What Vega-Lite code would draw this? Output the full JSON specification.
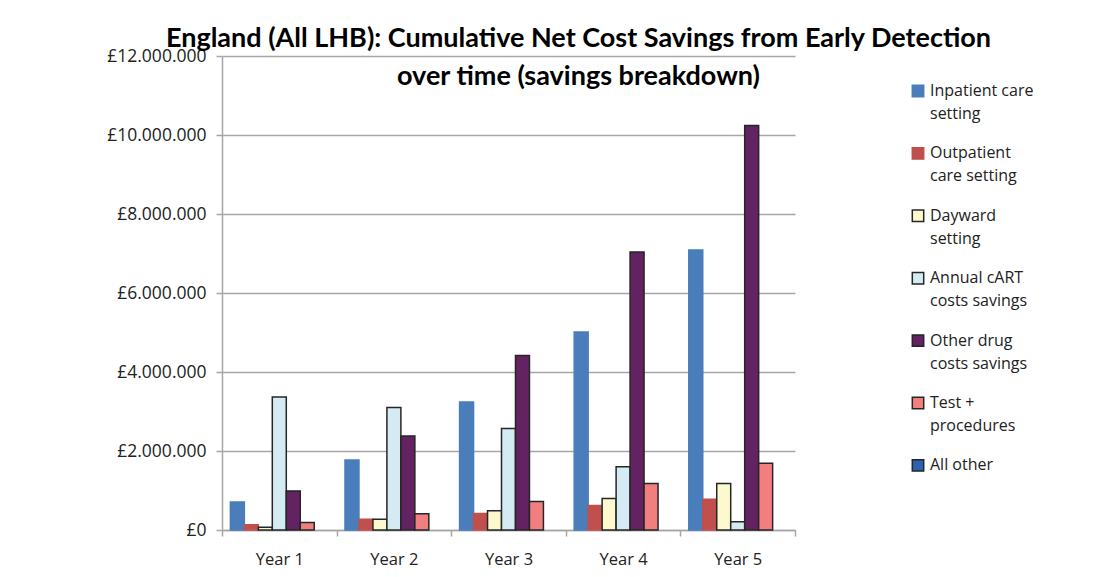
{
  "$schema": "https://vega.github.io/schema/vega-lite/v6.json",
  "width": 573,
  "height": 474,
  "autosize": {"type": "none"},
  "padding": {"left": 222, "top": 56, "right": 311, "bottom": 47},
  "background": "white",
  "title": {
    "text": ["England  (All LHB): Cumulative Net Cost Savings from Early Detection", "over time (savings breakdown)"],
    "font": "Lato", "fontSize": 27, "fontWeight": "bold", "color": "#000000",
    "anchor": "middle", "dx": 70, "offset": -71, "lineHeight": 38, "baseline": "bottom"
  },
  "data": {
    "values": [
      {"year": "Year 1", "series": "Inpatient care setting", "value": 710000},
      {"year": "Year 1", "series": "Outpatient care setting", "value": 130000},
      {"year": "Year 1", "series": "Dayward setting", "value": 70000},
      {"year": "Year 1", "series": "Annual cART costs savings", "value": 3370000},
      {"year": "Year 1", "series": "Other drug costs savings", "value": 990000},
      {"year": "Year 1", "series": "Test + procedures", "value": 190000},
      {"year": "Year 1", "series": "All other", "value": 0},
      {"year": "Year 2", "series": "Inpatient care setting", "value": 1770000},
      {"year": "Year 2", "series": "Outpatient care setting", "value": 270000},
      {"year": "Year 2", "series": "Dayward setting", "value": 270000},
      {"year": "Year 2", "series": "Annual cART costs savings", "value": 3100000},
      {"year": "Year 2", "series": "Other drug costs savings", "value": 2380000},
      {"year": "Year 2", "series": "Test + procedures", "value": 410000},
      {"year": "Year 2", "series": "All other", "value": 0},
      {"year": "Year 3", "series": "Inpatient care setting", "value": 3240000},
      {"year": "Year 3", "series": "Outpatient care setting", "value": 420000},
      {"year": "Year 3", "series": "Dayward setting", "value": 490000},
      {"year": "Year 3", "series": "Annual cART costs savings", "value": 2570000},
      {"year": "Year 3", "series": "Other drug costs savings", "value": 4420000},
      {"year": "Year 3", "series": "Test + procedures", "value": 720000},
      {"year": "Year 3", "series": "All other", "value": 0},
      {"year": "Year 4", "series": "Inpatient care setting", "value": 5010000},
      {"year": "Year 4", "series": "Outpatient care setting", "value": 620000},
      {"year": "Year 4", "series": "Dayward setting", "value": 800000},
      {"year": "Year 4", "series": "Annual cART costs savings", "value": 1600000},
      {"year": "Year 4", "series": "Other drug costs savings", "value": 7040000},
      {"year": "Year 4", "series": "Test + procedures", "value": 1180000},
      {"year": "Year 4", "series": "All other", "value": 0},
      {"year": "Year 5", "series": "Inpatient care setting", "value": 7090000},
      {"year": "Year 5", "series": "Outpatient care setting", "value": 780000},
      {"year": "Year 5", "series": "Dayward setting", "value": 1180000},
      {"year": "Year 5", "series": "Annual cART costs savings", "value": 210000},
      {"year": "Year 5", "series": "Other drug costs savings", "value": 10240000},
      {"year": "Year 5", "series": "Test + procedures", "value": 1690000},
      {"year": "Year 5", "series": "All other", "value": 0}
    ]
  },
  "mark": {"type": "bar", "strokeWidth": 1.5},
  "encoding": {
    "x": {
      "field": "year", "type": "nominal",
      "scale": {"paddingInner": 0, "paddingOuter": 0},
      "axis": {
        "title": null, "labelAngle": 0, "tickBand": "extent",
        "labelFont": "Open Sans", "labelFontSize": 16.5, "labelColor": "#222222", "labelPadding": 15,
        "domainColor": "#A6A6A6", "domainWidth": 1.5, "tickColor": "#A6A6A6", "tickWidth": 1.5, "tickSize": 6
      }
    },
    "xOffset": {
      "field": "series", "type": "nominal",
      "sort": ["Inpatient care setting", "Outpatient care setting", "Dayward setting", "Annual cART costs savings", "Other drug costs savings", "Test + procedures", "All other"],
      "scale": {"paddingInner": 0, "paddingOuter": 0.6}
    },
    "y": {
      "field": "value", "type": "quantitative",
      "scale": {"domain": [0, 12000000]},
      "axis": {
        "title": null, "values": [0, 2000000, 4000000, 6000000, 8000000, 10000000, 12000000],
        "labelExpr": "'£' + replace(format(datum.value, ','), regexp(',', 'g'), '.')",
        "labelFont": "Open Sans", "labelFontSize": 17.5, "labelColor": "#222222", "labelPadding": 10,
        "gridColor": "#A6A6A6", "gridWidth": 1.5,
        "domainColor": "#A6A6A6", "domainWidth": 1.5, "tickColor": "#A6A6A6", "tickWidth": 1.5, "tickSize": 6
      }
    },
    "strokeOpacity": {"condition": {"test": "datum.value == 0", "value": 0}, "value": 1},
    "color": {
      "field": "series", "type": "nominal",
      "scale": {
        "domain": ["Inpatient care setting", "Outpatient care setting", "Dayward setting", "Annual cART costs savings", "Other drug costs savings", "Test + procedures", "All other"],
        "range": ["#4A7EBB", "#C0504D", "#FCF9CE", "#D5EBF3", "#632363", "#F27F80", "#2C62B0"]
      },
      "legend": {
        "title": null, "orient": "none", "legendX": 688, "legendY": 27,
        "symbolType": "square", "symbolSize": 130, "symbolStrokeWidth": 1.5,
        "labelFont": "Open Sans", "labelFontSize": 16, "labelColor": "#222222", "labelLimit": 300,
        "labelBaseline": "middle", "rowPadding": 22.4, "labelOffset": 4,
        "encode": {"labels": {"update": {"lineHeight": {"value": 23}}}},
        "labelExpr": "datum.label == 'Inpatient care setting' ? ['Inpatient care', 'setting'] : datum.label == 'Outpatient care setting' ? ['Outpatient', 'care setting'] : datum.label == 'Dayward setting' ? ['Dayward', 'setting'] : datum.label == 'Annual cART costs savings' ? ['Annual cART', 'costs savings'] : datum.label == 'Other drug costs savings' ? ['Other drug', 'costs savings'] : datum.label == 'Test + procedures' ? ['Test +', 'procedures'] : datum.label"
      }
    },
    "stroke": {
      "field": "series", "type": "nominal",
      "scale": {
        "domain": ["Inpatient care setting", "Outpatient care setting", "Dayward setting", "Annual cART costs savings", "Other drug costs savings", "Test + procedures", "All other"],
        "range": ["#4A7EBB", "#C0504D", "#262626", "#262626", "#262626", "#262626", "#262626"]
      },
      "legend": {
        "title": null, "orient": "none", "legendX": 688, "legendY": 27,
        "symbolType": "square", "symbolSize": 130, "symbolStrokeWidth": 1.5,
        "labelFont": "Open Sans", "labelFontSize": 16, "labelColor": "#222222", "labelLimit": 300,
        "labelBaseline": "middle", "rowPadding": 22.4, "labelOffset": 4,
        "encode": {"labels": {"update": {"lineHeight": {"value": 23}}}},
        "labelExpr": "datum.label == 'Inpatient care setting' ? ['Inpatient care', 'setting'] : datum.label == 'Outpatient care setting' ? ['Outpatient', 'care setting'] : datum.label == 'Dayward setting' ? ['Dayward', 'setting'] : datum.label == 'Annual cART costs savings' ? ['Annual cART', 'costs savings'] : datum.label == 'Other drug costs savings' ? ['Other drug', 'costs savings'] : datum.label == 'Test + procedures' ? ['Test +', 'procedures'] : datum.label"
      }
    }
  },
  "config": {
    "view": {"stroke": null},
    "axis": {"gridCap": "butt"}
  }
}
